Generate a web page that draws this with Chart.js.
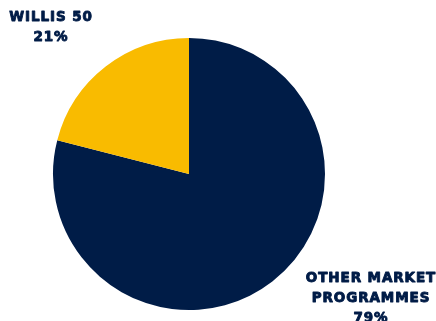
<!DOCTYPE html>
<html>
<head>
<meta charset="utf-8">
<script src="https://cdn.jsdelivr.net/npm/chart.js@4"></script>
<style>
  html, body { margin: 0; padding: 0; background: #fff; }
  #wrap { width: 436px; height: 321px; }
</style>
</head>
<body>
<div id="wrap"><canvas id="pie"></canvas></div>
<script>
const labels = ['OTHER MARKET PROGRAMMES', 'WILLIS 50'];
const shares = [79, 21];
const colors = ['#001c47', '#f9bb00'];

// label text drawn outside the pie
const labelLines = [
    { lines: ['WILLIS 50', '21%'], x: 51, y: 17 },
    { lines: ['OTHER MARKET', 'PROGRAMMES', '79%'], x: 371, y: 278 }
];

const outsideLabels = {
    id: 'outsideLabels',
    afterDraw(chart) {
        const ctx = chart.ctx;
        ctx.save();
        ctx.fillStyle = '#001c47';
        ctx.strokeStyle = '#001c47';
        ctx.lineWidth = 0.9;
        ctx.lineJoin = 'round';
        ctx.font = 'bold 13.5px "DejaVu Sans"';
        ctx.letterSpacing = '0.9px';
        ctx.textAlign = 'center';
        ctx.textBaseline = 'middle';
        labelLines.forEach(l => {
            l.lines.forEach((t, i) => {
                ctx.fillText(t, l.x, l.y + i * 20);
                ctx.strokeText(t, l.x, l.y + i * 20);
            });
        });
        ctx.restore();
    }
};

new Chart(document.getElementById('pie'), {
    type: 'pie',
    data: {
        labels: labels,
        datasets: [{
            data: shares,
            backgroundColor: colors,
            borderWidth: 0
        }]
    },
    options: {
        responsive: true,
        maintainAspectRatio: false,
        animation: false,
        layout: { padding: { left: 53, right: 111, top: 38, bottom: 11 } },
        plugins: {
            legend: { display: false },
            tooltip: { enabled: false }
        }
    },
    plugins: [outsideLabels]
});
</script>
</body>
</html>
